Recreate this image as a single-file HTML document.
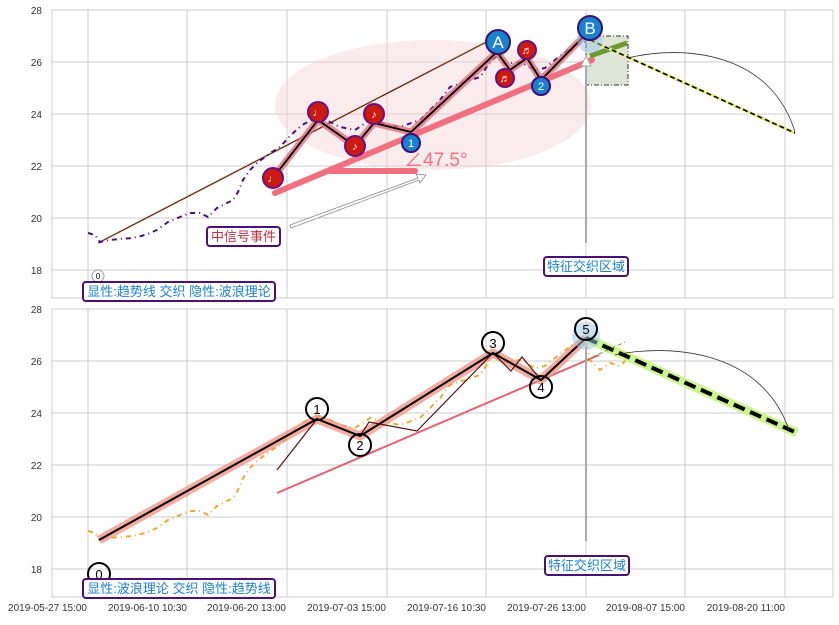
<!DOCTYPE html>
<html><head><meta charset="utf-8"><style>
body{margin:0;background:#fff}
text{font-family:"Liberation Sans","Noto Sans CJK SC",sans-serif}
</style></head><body>
<svg width="839" height="620" xmlns="http://www.w3.org/2000/svg">
<defs>
<g id="grid">
<rect x="52" y="0" width="781" height="288" fill="#fff" stroke="#ccc"/>
<g stroke="#ccc" stroke-width="1">
<line x1="52" y1="52" x2="833" y2="52"/><line x1="52" y1="104" x2="833" y2="104"/>
<line x1="52" y1="156" x2="833" y2="156"/><line x1="52" y1="208" x2="833" y2="208"/>
<line x1="52" y1="260" x2="833" y2="260"/>
<line x1="88" y1="0" x2="88" y2="288"/><line x1="187" y1="0" x2="187" y2="288"/>
<line x1="287" y1="0" x2="287" y2="288"/><line x1="387" y1="0" x2="387" y2="288"/>
<line x1="486" y1="0" x2="486" y2="288"/><line x1="586" y1="0" x2="586" y2="288"/>
<line x1="685" y1="0" x2="685" y2="288"/><line x1="785" y1="0" x2="785" y2="288"/>
</g>
<g font-size="10" fill="#333" text-anchor="end">
<text x="42" y="4">28</text><text x="42" y="56">26</text><text x="42" y="108">24</text>
<text x="42" y="160">22</text><text x="42" y="212">20</text><text x="42" y="264">18</text>
</g>
</g>
<polyline id="price" fill="none" points="88,233 95,235 100,242 110,240 120,239 133,238 145,235 157,230 168,222 180,217 190,213 200,213 208,217 217,208 225,204 233,200 238,192 243,180 250,170 257,163 265,157 272,152 280,147 290,136 302,125 312,120 320,118 330,122 340,127 355,130 370,120 385,124 400,127 420,120 440,100 450,87 465,82 480,77 490,62 497,56 505,64 520,62 535,70 545,68 560,56 575,45 585,42 590,62 600,72 610,65 620,68 628,60"/>
</defs>

<!-- TOP PANEL -->
<g transform="translate(0,10)"><use href="#grid"/></g>
<ellipse cx="433" cy="105" rx="158" ry="65" fill="#f3d3d8" opacity="0.45"/>
<line x1="98" y1="243" x2="498" y2="36" stroke="#e8a080" stroke-width="2"/>
<line x1="98" y1="243" x2="498" y2="36" stroke="#000" stroke-width="0.7"/>
<use href="#price" stroke="#4b0f7a" stroke-width="2" stroke-dasharray="5,4,1,4"/>
<rect x="586" y="36" width="42" height="49" fill="#dde6d6" stroke="#333" stroke-dasharray="5,2,1,2"/>
<polyline fill="none" stroke="#e07080" stroke-width="7" opacity="0.8" stroke-linejoin="round" points="273,178 318,120 355,146 374,123 411,132 497,52 510,70 527,58 541,80 590,30"/>
<polyline fill="none" stroke="#000" stroke-width="1.8" points="273,178 318,120 355,146 374,123 411,132 497,52 510,70 527,58 541,80 590,30"/>
<line x1="275" y1="193" x2="592" y2="60" stroke="#f07080" stroke-width="6" stroke-linecap="round"/>
<line x1="330" y1="171" x2="415" y2="171" stroke="#f07080" stroke-width="6" stroke-linecap="round"/>
<text x="404" y="166" font-size="19" fill="#f07080">∠47.5°</text>
<line x1="590" y1="56" x2="627" y2="43" stroke="#6a9a30" stroke-width="5"/>
<line x1="590" y1="40" x2="795" y2="133" stroke="#e8f080" stroke-width="3"/>
<line x1="590" y1="40" x2="795" y2="133" stroke="#000" stroke-width="1.6" stroke-dasharray="5,3"/>
<path d="M628,58 C680,45 770,50 795,132" fill="none" stroke="#333" stroke-width="0.8"/>
<path d="M290,225 L418,178 L416,174 L426,175 L420,183 L419,180 L291,228 Z" fill="#fff" stroke="#888" stroke-width="0.8"/>
<line x1="586" y1="243" x2="586" y2="64" stroke="#aaa" stroke-width="2"/>
<path d="M581,66 L586,56 L591,66 Z" fill="#fff" stroke="#aaa"/>
<circle cx="590" cy="40" r="13" fill="#9cc8e8" opacity="0.5"/>
<g stroke="#6a1080" stroke-width="2" fill="#cc1a10">
<circle cx="273" cy="178" r="10"/><circle cx="318" cy="112" r="10"/><circle cx="355" cy="146" r="10"/>
<circle cx="374" cy="114" r="10"/><circle cx="505" cy="78" r="9"/><circle cx="527" cy="50" r="9"/>
</g>
<g fill="#fff" font-size="11" text-anchor="middle">
<text x="273" y="182">♩</text><text x="318" y="116">♩</text><text x="355" y="150">♪</text>
<text x="374" y="118">♪</text><text x="505" y="82">♬</text><text x="527" y="54">♬</text>
</g>
<g stroke="#3a1070" stroke-width="2" fill="#1a80d0">
<circle cx="411" cy="143" r="9"/><circle cx="541" cy="86" r="9"/><circle cx="498" cy="42" r="12"/><circle cx="590" cy="28" r="12"/>
</g>
<g fill="#fff" text-anchor="middle">
<text x="411" y="147" font-size="11">1</text><text x="541" y="90" font-size="11">2</text>
<text x="498" y="48" font-size="17">A</text><text x="590" y="34" font-size="17">B</text>
</g>
<circle cx="98" cy="276" r="6" fill="#fff" stroke="#888" stroke-width="0.8"/>
<text x="98" y="279" font-size="8" text-anchor="middle">0</text>
<rect x="207" y="227" width="73" height="19" rx="3" fill="#fff" stroke="#4b0f7a" stroke-width="2"/>
<text x="243.5" y="241" font-size="13" fill="#c03040" text-anchor="middle">中信号事件</text>
<rect x="544" y="257" width="84" height="19" rx="3" fill="#fff" stroke="#4b0f7a" stroke-width="2"/>
<text x="586" y="271" font-size="13" fill="#1a80d0" text-anchor="middle">特征交织区域</text>
<rect x="83" y="282" width="192" height="19" rx="3" fill="#fff" stroke="#4b0f7a" stroke-width="2"/>
<text x="179" y="296" font-size="13" fill="#1a80d0" text-anchor="middle">显性:趋势线 交织 隐性:波浪理论</text>

<!-- BOTTOM PANEL -->
<g transform="translate(0,309)"><use href="#grid"/></g>
<use href="#price" transform="translate(0,298)" stroke="#f0a830" stroke-width="2" stroke-dasharray="5,4,1,4"/>
<line x1="277" y1="493" x2="599" y2="355" stroke="#e86070" stroke-width="2"/>
<polyline fill="none" stroke="#f09080" stroke-width="9" opacity="0.75" stroke-linejoin="round" points="99,540 317,419 360,436 493,353 541,380 586,338"/>
<polyline fill="none" stroke="#5a1010" stroke-width="1.2" points="277,470 317,419 360,436 369,422 417,431 493,353 511,371 522,357 541,380"/>
<polyline fill="none" stroke="#000" stroke-width="2" points="99,540 317,419 360,436 493,353 541,380 586,338"/>
<line x1="586" y1="338" x2="797" y2="433" stroke="#ccf590" stroke-width="9"/>
<line x1="586" y1="338" x2="797" y2="433" stroke="#000" stroke-width="4" stroke-dasharray="12,6"/>
<line x1="586" y1="360" x2="625" y2="342" stroke="#6a9a30" stroke-width="1" stroke-dasharray="4,3"/>
<path d="M615,355 C660,345 760,345 789,430" fill="none" stroke="#333" stroke-width="0.8"/>
<line x1="586" y1="541" x2="586" y2="347" stroke="#aaa" stroke-width="2"/>
<circle cx="586" cy="336" r="14" fill="#9cc8e8" opacity="0.5"/>
<g fill="none" stroke="#000" stroke-width="2">
<circle cx="99" cy="574" r="11"/><circle cx="317" cy="409" r="11"/><circle cx="360" cy="445" r="11"/>
<circle cx="493" cy="343" r="11"/><circle cx="541" cy="387" r="11"/><circle cx="586" cy="329" r="11"/>
</g>
<g font-size="13" text-anchor="middle" fill="#000">
<text x="99" y="579">0</text><text x="317" y="414">1</text><text x="360" y="450">2</text>
<text x="493" y="348">3</text><text x="541" y="392">4</text><text x="586" y="334">5</text>
</g>
<rect x="545" y="556" width="84" height="19" rx="3" fill="#fff" stroke="#4b0f7a" stroke-width="2"/>
<text x="587" y="570" font-size="13" fill="#1a80d0" text-anchor="middle">特征交织区域</text>
<rect x="83" y="579" width="192" height="19" rx="3" fill="#fff" stroke="#4b0f7a" stroke-width="2"/>
<text x="179" y="593" font-size="13" fill="#1a80d0" text-anchor="middle">显性:波浪理论 交织 隐性:趋势线</text>
<g font-size="10" fill="#333" text-anchor="end">
<text x="87" y="611">2019-05-27 15:00</text><text x="187" y="611">2019-06-10 10:30</text>
<text x="286" y="611">2019-06-20 13:00</text><text x="386" y="611">2019-07-03 15:00</text>
<text x="486" y="611">2019-07-16 10:30</text><text x="586" y="611">2019-07-26 13:00</text>
<text x="685" y="611">2019-08-07 15:00</text><text x="785" y="611">2019-08-20 11:00</text>
</g>
</svg>
</body></html>
